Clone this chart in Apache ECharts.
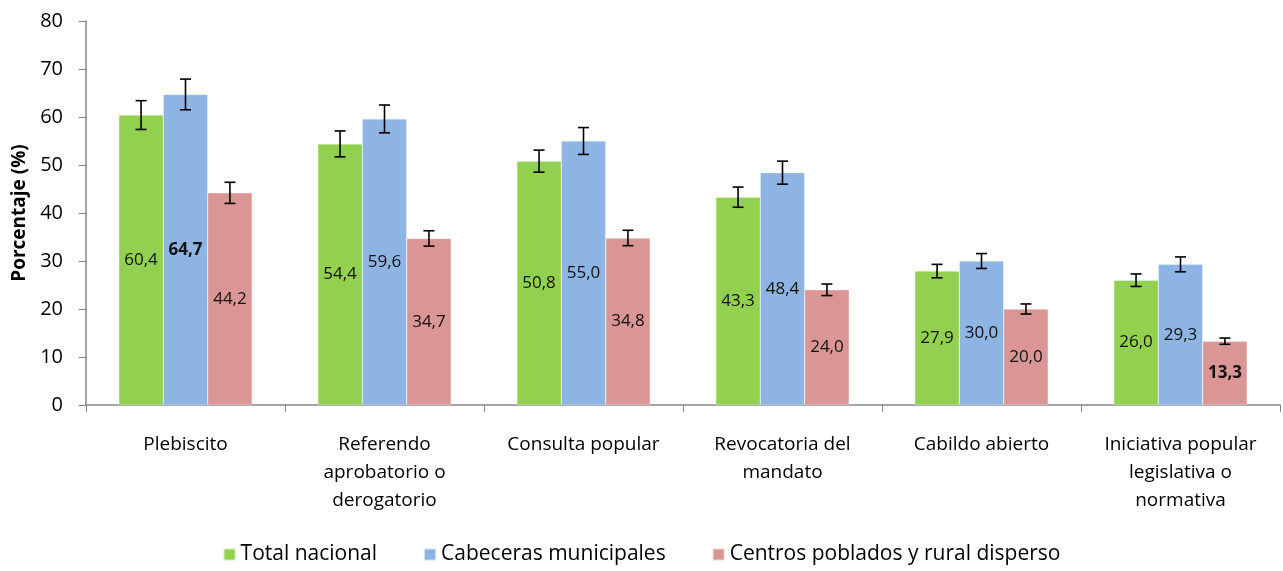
<!DOCTYPE html>
<html>
<head>
<meta charset="utf-8">
<script src="https://cdn.jsdelivr.net/npm/echarts@6/dist/echarts.min.js"></script>
<style>
  html, body { margin: 0; padding: 0; background: #fff; }
  #chart { width: 1283px; height: 571px; }
</style>
</head>
<body>
<div id="chart"></div>
<script>
// categorias (eje x)
var categories = [
  "Plebiscito",
  "Referendo\naprobatorio o\nderogatorio",
  "Consulta popular",
  "Revocatoria del\nmandato",
  "Cabildo abierto",
  "Iniciativa popular\nlegislativa o\nnormativa"
];
var seriesNames = ["Total nacional", "Cabeceras municipales", "Centros poblados y rural disperso"];
var totalNacional = [60.4, 54.4, 50.8, 43.3, 27.9, 26.0];
var cabeceras = [64.7, 59.6, 55.0, 48.4, 30.0, 29.3];
var centrosPoblados = [44.2, 34.7, 34.8, 24.0, 20.0, 13.3];
var errTotal = [3.0, 2.7, 2.3, 2.1, 1.4, 1.3];
var errCabeceras = [3.2, 2.9, 2.8, 2.4, 1.55, 1.55];
var errCentros = [2.2, 1.6, 1.6, 1.2, 1.05, 0.65];
// valores en negrita
var boldLabels = [[], [0], [5]];
var yTicks = [0, 10, 20, 30, 40, 50, 60, 70, 80];

var colors = ["#92D050", "#8DB4E2", "#DA9694"];
var values = [totalNacional, cabeceras, centrosPoblados];
var errors = [errTotal, errCabeceras, errCentros];
var gapRatio = 0.33;
var font = "'Open Sans', 'Noto Sans', sans-serif";

var myChart = echarts.init(document.getElementById("chart"));

var series = [];
values.forEach(function (vals, s) {
  series.push({
    name: seriesNames[s],
    type: "bar",
    barGap: "0%",
    barCategoryGap: (gapRatio * 100) + "%",
    itemStyle: { color: colors[s], borderColor: "rgba(255,255,255,0.6)", borderWidth: 0.5 },
    data: vals.map(function (v, i) {
      var bold = boldLabels[s].indexOf(i) >= 0;
      return { value: v, label: { fontWeight: bold ? "bold" : "normal" } };
    }),
    label: {
      show: true,
      position: "inside",
      color: "#111",
      fontFamily: font,
      fontSize: 17,
      formatter: function (p) { return p.value.toFixed(1).replace(".", ","); }
    },
    z: 2
  });
});

// barras de error
values.forEach(function (vals, s) {
  series.push({
    name: seriesNames[s] + " error",
    type: "custom",
    z: 5,
    silent: true,
    data: vals.map(function (v, i) { return [i, v - errors[s][i], v + errors[s][i]]; }),
    renderItem: function (params, api) {
      var idx = api.value(0);
      var lo = api.coord([idx, api.value(1)]);
      var hi = api.coord([idx, api.value(2)]);
      var band = api.size([1, 0])[0];
      var bw = band * (1 - gapRatio) / 3;
      var x = lo[0] + (s - 1) * bw;
      var cap = 5.5;
      var st = { stroke: "#000", lineWidth: 1.6 };
      return {
        type: "group",
        children: [
          { type: "line", shape: { x1: x, y1: lo[1], x2: x, y2: hi[1] }, style: st },
          { type: "line", shape: { x1: x - cap, y1: hi[1], x2: x + cap, y2: hi[1] }, style: st },
          { type: "line", shape: { x1: x - cap, y1: lo[1], x2: x + cap, y2: lo[1] }, style: st }
        ]
      };
    }
  });
});

myChart.setOption({
  animation: false,
  legend: {
    data: seriesNames,
    bottom: 1,
    left: "center",
    icon: "rect",
    itemWidth: 12,
    itemHeight: 12,
    itemGap: 46,
    textStyle: { fontFamily: font, fontSize: 21, color: "#000" }
  },
  grid: {
    left: 86,
    right: 3,
    top: 21,
    bottom: 166
  },
  xAxis: {
    type: "category",
    data: categories,
    axisLine: { lineStyle: { color: "#868686", width: 1.5 } },
    axisTick: { show: true, length: 7, lineStyle: { color: "#868686" } },
    axisLabel: {
      interval: 0,
      margin: 26,
      lineHeight: 28,
      color: "#000",
      fontFamily: font,
      fontSize: 19
    }
  },
  yAxis: {
    type: "value",
    min: yTicks[0],
    max: yTicks[yTicks.length - 1],
    interval: 10,
    name: "Porcentaje (%)",
    nameLocation: "middle",
    nameRotate: 90,
    nameGap: 55,
    nameTextStyle: { fontFamily: font, fontSize: 19, fontWeight: "bold", color: "#000" },
    splitLine: { show: false },
    axisLine: { show: true, lineStyle: { color: "#868686", width: 1.5 } },
    axisTick: { show: true, inside: false, length: 7, lineStyle: { color: "#868686" } },
    axisLabel: { margin: 23, color: "#000", fontFamily: font, fontSize: 20 }
  },
  series: series
});
</script>
</body>
</html>
